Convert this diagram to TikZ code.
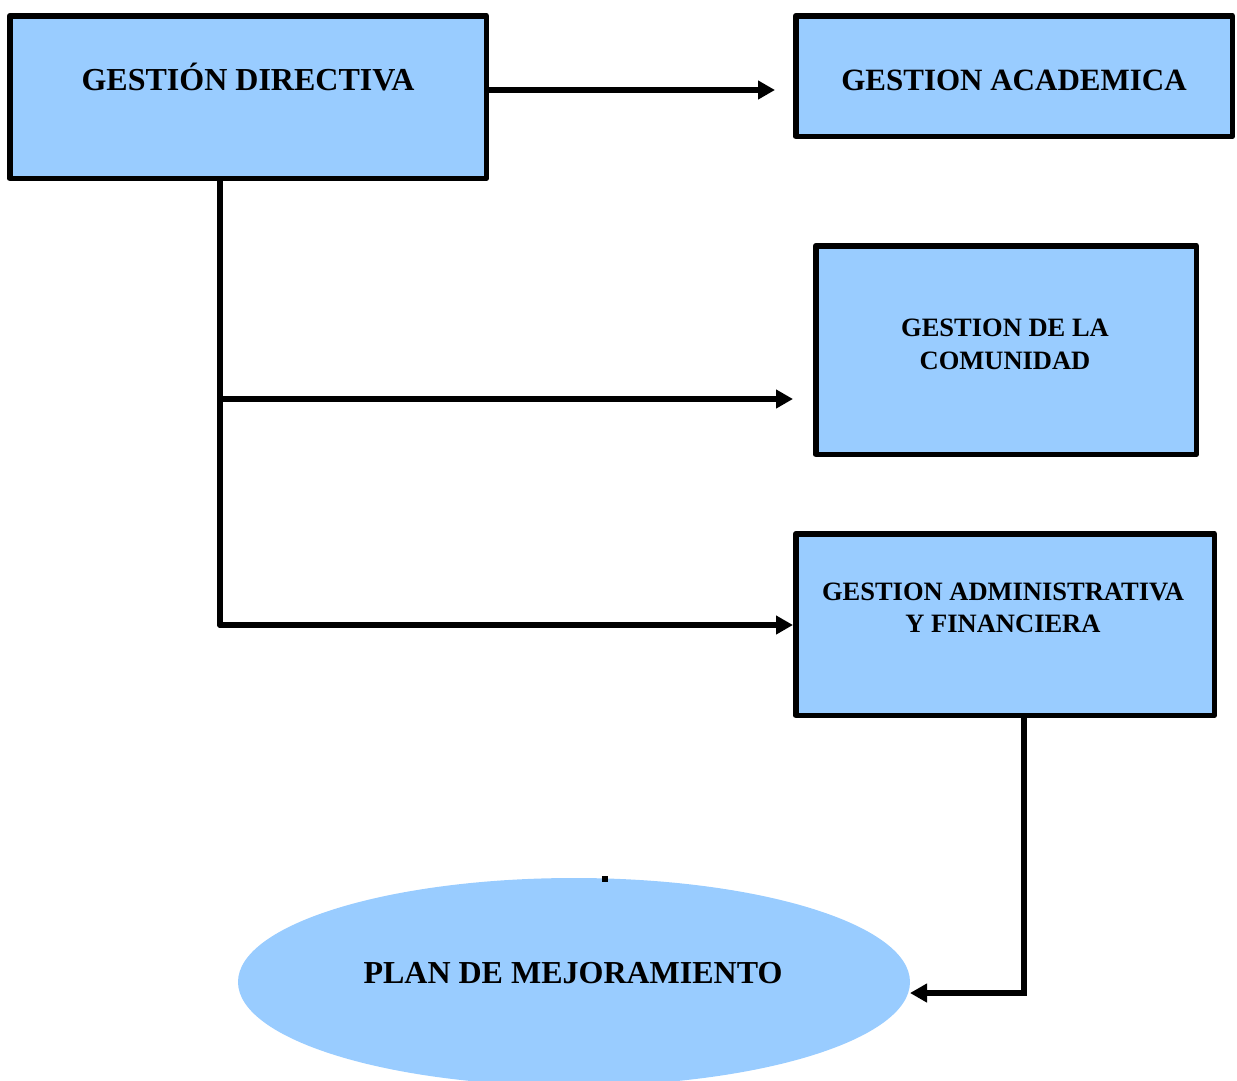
\documentclass[tikz,border=0pt]{standalone}
\usepackage{fontspec}
\setmainfont{Liberation Serif}
\usepackage{xcolor}
\usepackage{tikz}
\usetikzlibrary{calc,arrows.meta,shapes.geometric}
\definecolor{boxblue}{HTML}{99CCFF}

\begin{document}
\begin{tikzpicture}[x=1pt,y=-1pt,line width=5.5pt]
    % `area' is used for the four rectangles.
    % `plan' is used for the ellipse at the bottom.
    % `flow' is used for the arrows.
    \tikzstyle{area} = [draw,fill=boxblue,inner sep=0pt,line join=round]
    \tikzstyle{plan} = [ellipse,fill=boxblue,inner sep=0pt,outer sep=0pt,minimum width=672pt,minimum height=208pt]
    \tikzstyle{title} = [font=\bfseries\fontsize{32}{38}\selectfont,anchor=base,inner sep=0pt]
    \tikzstyle{small} = [font=\bfseries\fontsize{26.5}{33}\selectfont,align=center,anchor=base,inner sep=0pt]
    \tikzstyle{flow} = [line cap=round,-{Triangle[length=17pt,width=18pt]}]
    %
    \clip (0,0) rectangle (1237,1080);
    % Boxes.
    \node[area,minimum width=476.5pt,minimum height=162.5pt] (dir) at (248,97) {};
    \node[area,minimum width=436.5pt,minimum height=120.5pt] (aca) at (1014,76) {};
    \node[area,minimum width=380.5pt,minimum height=208.5pt] (com) at (1006,350) {};
    \node[area,minimum width=418.5pt,minimum height=181.5pt] (adm) at (1005,624.5) {};
    \node[plan] (plan) at (574,982) {};
    \node[fill=black,inner sep=0pt,minimum size=6pt] (dot) at (605,879) {};
    % Texts (base is the last line).
    \node[title] (dirtext) at (248,90) {GESTIÓN DIRECTIVA};
    \node[title,font=\bfseries\fontsize{31}{37}\selectfont] (acatext) at (1014,90) {GESTION ACADEMICA};
    \node[small] (comtext) at (1005,369) {GESTION DE LA\\COMUNIDAD};
    \node[small,font=\bfseries\fontsize{26.5}{32}\selectfont] (admtext) at (1003,632) {GESTION ADMINISTRATIVA\\Y FINANCIERA};
    \node[title] (plantext) at (573,983) {PLAN DE MEJORAMIENTO};
    % Lines.
    \coordinate (t1) at (220,399);
    \coordinate (t2) at (220,625);
    \coordinate (bend) at (1024,993);
    \draw[line cap=round] (dir.south -| t1) -- (t2);
    \draw[flow,shorten >=18pt] ($(dir.east)+(0,-7)$) coordinate (d1) -- (d1 -| aca.west);
    \draw[flow,shorten >=20pt] (t1) -- (t1 -| com.west);
    \draw[flow] (t2) -- (t2 -| adm.west);
    \draw[flow] (adm.south -| bend) -- (bend) -- (bend -| plan.east);
    %
\end{tikzpicture}
\end{document}
